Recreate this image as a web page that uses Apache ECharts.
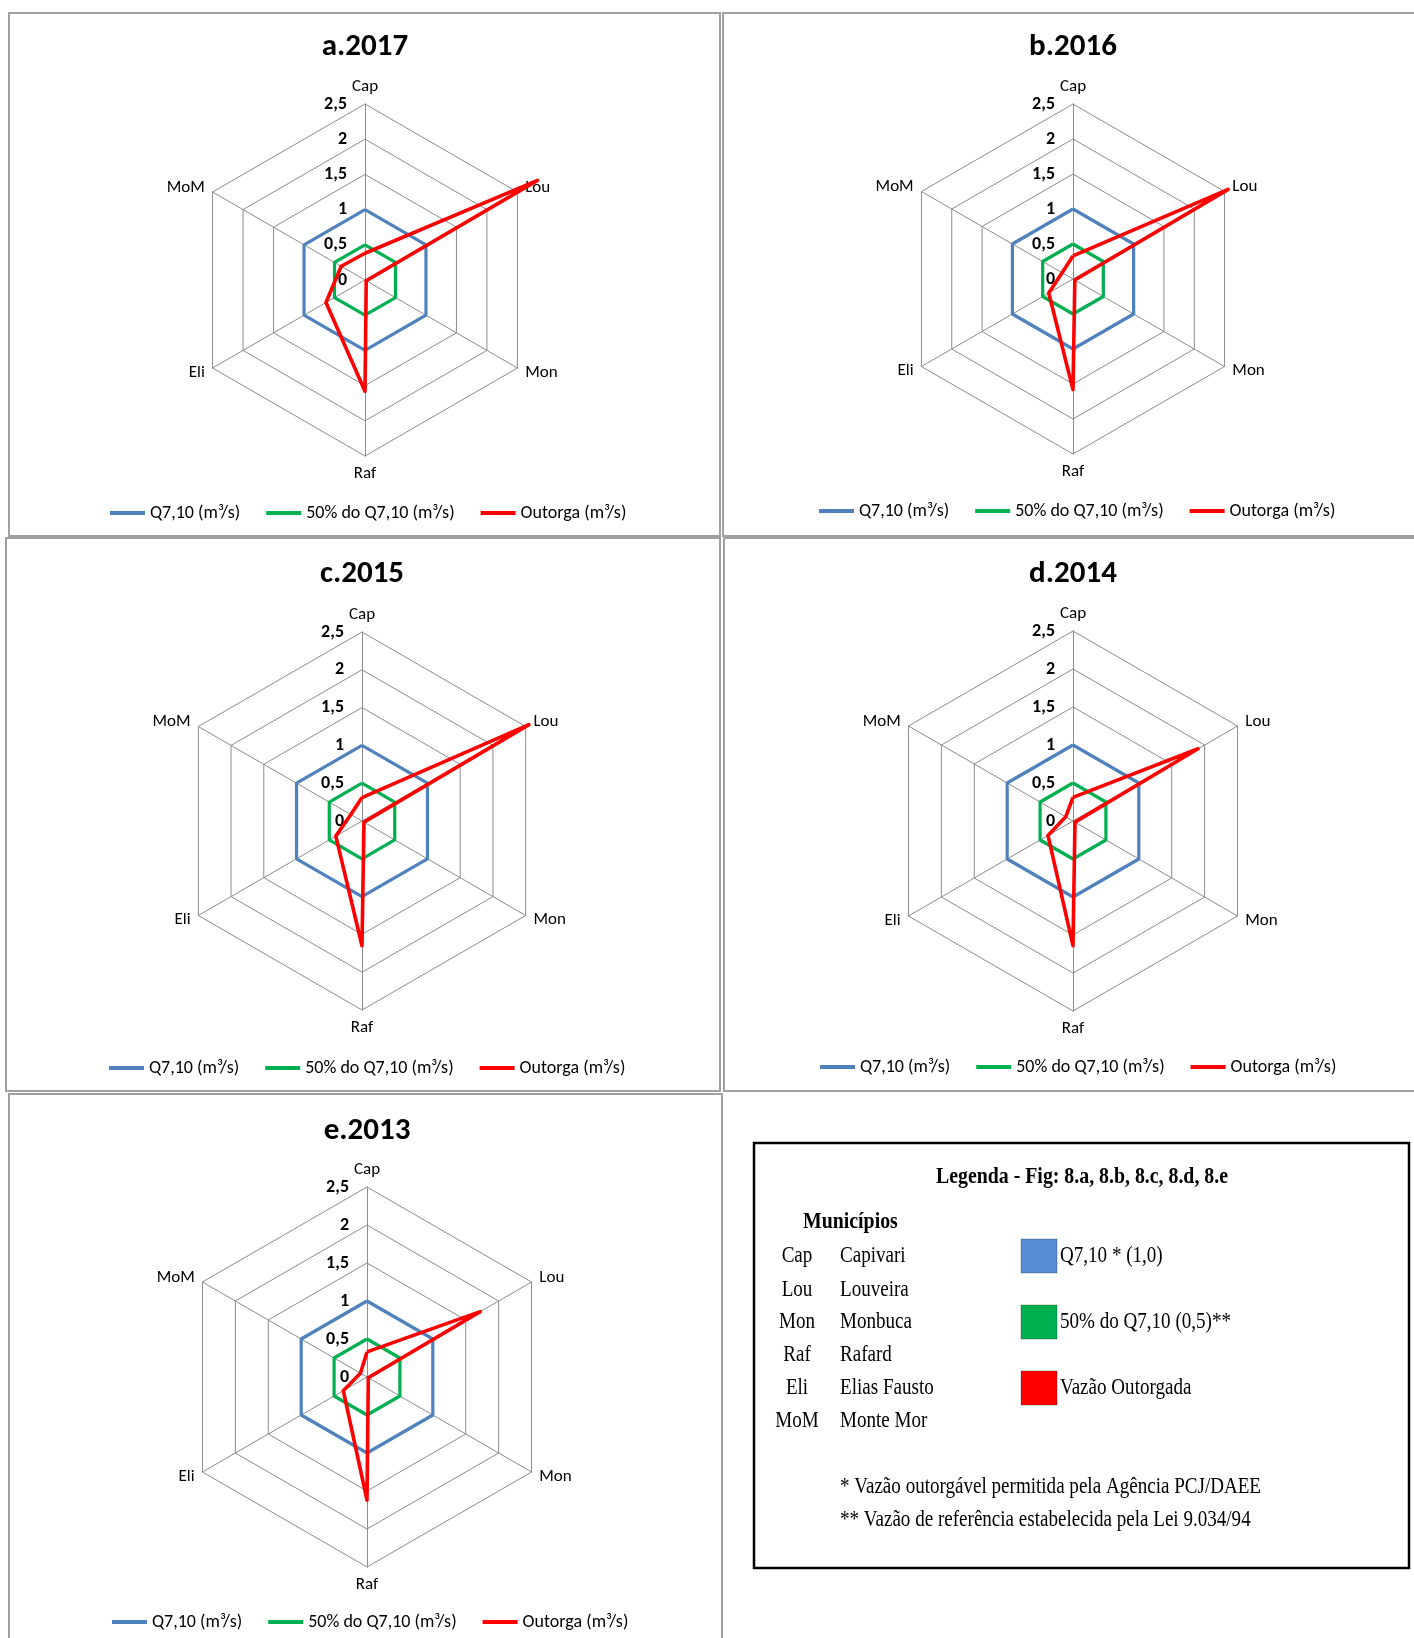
<!DOCTYPE html>
<html><head><meta charset="utf-8">
<script src="https://cdn.jsdelivr.net/npm/echarts@6/dist/echarts.min.js"></script>
<style>html,body{margin:0;padding:0;background:#fff}#c{width:1414px;height:1638px}</style>
</head><body><div id="c"></div>
<script>
// ---------------- DATA ----------------
const municipios = ['Cap', 'Lou', 'Mon', 'Raf', 'Eli', 'MoM'];
const municipioNomes = ['Capivari', 'Louveira', 'Monbuca', 'Rafard', 'Elias Fausto', 'Monte Mor'];
const panelTitles = ['a.2017', 'b.2016', 'c.2015', 'd.2014', 'e.2013'];
const seriesNames = ['Q7,10 (m³/s)', '50% do Q7,10 (m³/s)', 'Outorga (m³/s)'];
const axisMax = 2.5;
const axisSplits = 5;
// order: Cap, Lou, Mon, Raf, Eli, MoM
const q710 = [1, 1, 1, 1, 1, 1];
const q710Half = [0.5, 0.5, 0.5, 0.5, 0.5, 0.5];
const outorga2017 = [0.38, 2.83, 0.02, 1.58, 0.64, 0.39];
const outorga2016 = [0.33, 2.56, 0.03, 1.58, 0.40, 0.18];
const outorga2015 = [0.31, 2.55, 0.03, 1.65, 0.40, 0.17];
const outorga2014 = [0.31, 1.90, 0.03, 1.64, 0.38, 0.11];
const outorga2013 = [0.33, 1.72, 0.02, 1.62, 0.36, 0.10];
const outorgaByPanel = [outorga2017, outorga2016, outorga2015, outorga2014, outorga2013];
const boxTitle = 'Legenda - Fig: 8.a, 8.b, 8.c, 8.d, 8.e';
const boxSubtitle = 'Municípios';
const boxKeys = ['Q7,10 * (1,0)', '50% do Q7,10 (0,5)**', 'Vazão Outorgada'];
const boxNotes = ['* Vazão outorgável permitida pela Agência PCJ/DAEE', '** Vazão de referência estabelecida pela Lei 9.034/94'];

// ---------------- LAYOUT / STYLE ----------------
const SANS = 'Carlito, "DejaVu Sans Condensed", sans-serif';
const SERIF = '"Liberation Serif", "DejaVu Serif", serif';
const COLORS = ['#4F81BD', '#00B050', '#FF0000'];
const WIDTHS = [3.2, 3.2, 3.6];
const GRID = '#8C8C8C';
const panels = [
  {cx: 365, cy: 280, r: 176, ty: 45, lx: 110, ly: 513, frame: [9, 13, 711, 523]},
  {cx: 1073, cy: 279, r: 175, ty: 45, lx: 819, ly: 511, frame: [723, 13, 700, 523]},
  {cx: 362, cy: 821, r: 189, ty: 572, lx: 109, ly: 1068, frame: [6, 538, 714, 553]},
  {cx: 1073, cy: 821, r: 190, ty: 572, lx: 820, ly: 1067, frame: [724, 538, 700, 553]},
  {cx: 367, cy: 1377, r: 190, ty: 1129, lx: 112, ly: 1622, frame: [9, 1094, 713, 560]}
];
// ECharts lays indicators counter-clockwise; the chart goes clockwise.
const ccwOrder = [0, 5, 4, 3, 2, 1];
const reorder = arr => ccwOrder.map(k => arr[k]);
const fmt = v => String(Math.round(v * 10) / 10).replace('.', ',');

const radars = panels.map(p => ({
  center: [p.cx, p.cy], radius: p.r, startAngle: 90, splitNumber: axisSplits, shape: 'polygon',
  indicator: ccwOrder.map((k, j) => {
    const o = {name: municipios[k], min: 0, max: axisMax};
    if (j === 0) o.axisLabel = {show: true};
    return o;
  }),
  axisName: {color: '#000', fontSize: 17, fontFamily: SANS},
  nameGap: 9,
  axisLine: {lineStyle: {color: GRID, width: 1}},
  splitLine: {lineStyle: {color: GRID, width: 1}},
  splitArea: {show: false},
  axisTick: {show: false},
  axisLabel: {show: false, color: '#000', fontWeight: 'bold', fontSize: 18, fontFamily: SANS, margin: 18, formatter: fmt}
}));

const series = panels.map((p, i) => ({
  type: 'radar', radarIndex: i, symbol: 'none', silent: true,
  data: [q710, q710Half, outorgaByPanel[i]].map((vals, s) => ({
    name: seriesNames[s], value: reorder(vals),
    lineStyle: {color: COLORS[s], width: WIDTHS[s]},
    itemStyle: {color: COLORS[s]}
  }))
}));

const titles = panels.map((p, i) => ({
  text: panelTitles[i], left: p.cx, top: p.ty - 15, textAlign: 'center', padding: 0,
  textStyle: {fontSize: 31, fontWeight: 'bold', fontFamily: SANS, color: '#000', lineHeight: 34}
}));

const legends = panels.map((p, i) => ({
  data: seriesNames, left: p.lx, top: p.ly - 10, padding: 0, icon: 'rect',
  itemWidth: 35, itemHeight: 4, itemGap: 26, selectedMode: false,
  itemStyle: {borderWidth: 0},
  textStyle: {fontSize: 18, fontFamily: SANS, color: '#000', lineHeight: 20}
}));

// measure helper for serif box text scale
function measure(text, font) {
  const c = document.createElement('canvas').getContext('2d');
  c.font = font; return c.measureText(text).width;
}
const serifScale = 421 / measure(boxNotes[0], '23px "Liberation Serif"');
const serifBoldScale = 292 / measure(boxTitle, 'bold 23px "Liberation Serif"');

function sText(text, x, y, opts) {
  opts = opts || {};
  return {
    type: 'text', x: x, y: y, scaleX: opts.bold ? serifBoldScale : serifScale, silent: true,
    style: {text: text, x: 0, y: 0, fill: '#000', font: (opts.bold ? 'bold ' : '') + '23px ' + SERIF,
      textAlign: opts.align || 'left', textVerticalAlign: 'middle'}
  };
}

const graphics = [];
panels.forEach(p => {
  graphics.push({type: 'rect', silent: true, z: -10,
    shape: {x: p.frame[0], y: p.frame[1], width: p.frame[2], height: p.frame[3]},
    style: {fill: 'none', stroke: '#A0A0A0', lineWidth: 2}});
});
graphics.push({type: 'rect', silent: true, shape: {x: 754, y: 1143, width: 655, height: 425},
  style: {fill: '#fff', stroke: '#000', lineWidth: 2.5}});
graphics.push(sText(boxTitle, 1082, 1177, {bold: true, align: 'center'}));
graphics.push(sText(boxSubtitle, 803, 1222, {bold: true}));
const rowY = [1256, 1290, 1322, 1355, 1388, 1421];
municipios.forEach((m, i) => {
  graphics.push(sText(m, 797, rowY[i], {align: 'center'}));
  graphics.push(sText(municipioNomes[i], 840, rowY[i]));
});
const swY = [1256, 1322, 1388];
const swColors = ['#558ED5', '#00B050', '#FF0000'];
boxKeys.forEach((k, i) => {
  graphics.push({type: 'rect', silent: true, shape: {x: 1021, y: swY[i] - 17, width: 36, height: 34},
    style: {fill: swColors[i], stroke: 'rgba(0,0,0,0.25)', lineWidth: 1}});
  graphics.push(sText(k, 1060, swY[i]));
});
graphics.push(sText(boxNotes[0], 840, 1487));
graphics.push(sText(boxNotes[1], 840, 1520));

const chart = echarts.init(document.getElementById('c'), null, {renderer: 'canvas'});
chart.setOption({
  animation: false,
  backgroundColor: '#fff',
  title: titles,
  legend: legends,
  radar: radars,
  series: series,
  graphic: graphics
});
</script></body></html>
